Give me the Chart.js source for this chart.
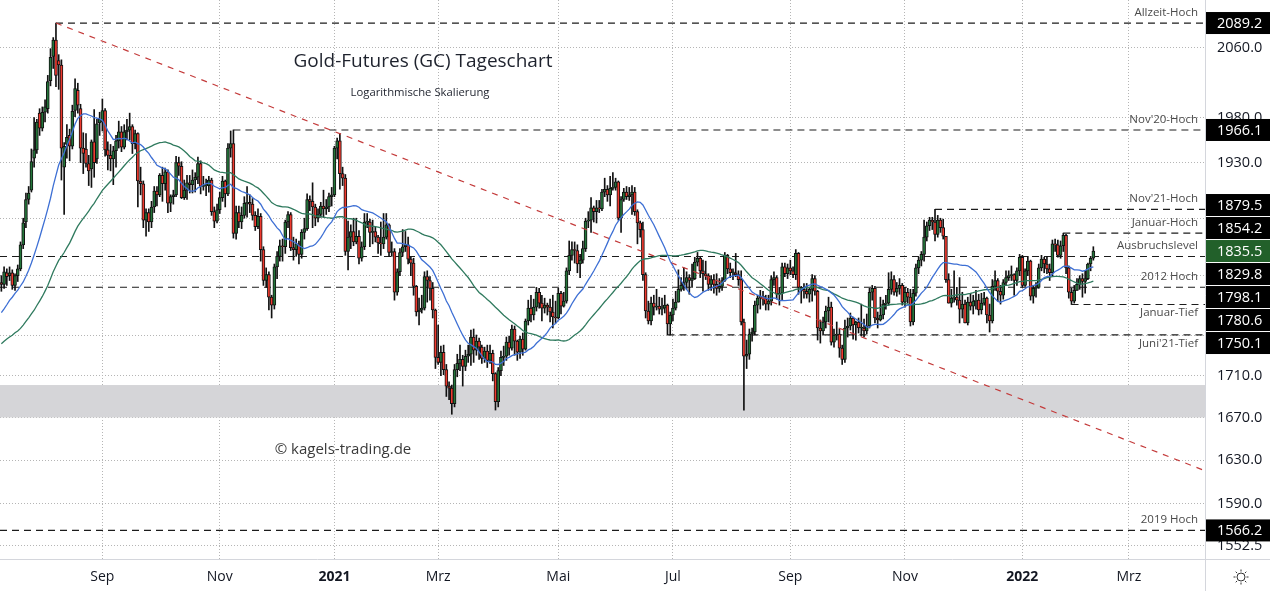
<!DOCTYPE html>
<html>
<head>
<meta charset="utf-8">
<script src="https://cdn.jsdelivr.net/npm/chart.js@4.4.1/dist/chart.umd.min.js"></script>
<style>
  html, body { margin: 0; padding: 0; background: #fff; }
  #wrap { width: 1270px; height: 591px; position: relative; }
</style>
</head>
<body>
<div id="wrap"><canvas id="chart"></canvas></div>
<script>
// Tagesdaten GC1! (Index 0 = 10.07.2020 ... Index 400 = 09.02.2022)
const opens = [
  1803,1801,1813,1810,1813,1800,1810,1817,1842,1866,1890,1900,1935,1944,1985,1968, // Jul 20
  1986,1990,2022,2050,2069,2045,2040,1925,1950,1960,1948,1988,2011,1990,1946,1945,1929,1923,1953,1934,1974, // Aug 20
  1975,1988,1944,1938,1934,1943,1954,1964,1947,1964,1966,1970,1951,1962,1910,1907,1868,1876,1866,1882,1899, // Sep 20
  1895,1916,1907,1920,1886,1893,1895,1930,1926,1892,1900,1908,1906,1911,1914,1929,1904,1905,1905,1911,1877,1867, // Okt 20
  1879,1892,1910,1896,1946,1951,1854,1876,1866,1873,1886,1887,1885,1873,1861,1872,1837,1805,1811,1788, // Nov 20
  1780,1819,1830,1841,1840,1866,1874,1839,1837,1843,1832,1855,1859,1890,1888,1882,1870,1874,1883,1880,1882,1893, // Dez 20
  1895,1946,1954,1918,1913,1835,1850,1856,1845,1851,1828,1840,1866,1866,1855,1856,1850,1844,1843, // Jan 21
  1850,1863,1834,1835,1793,1814,1834,1840,1842,1827,1823,1799,1773,1775,1777,1809,1805,1797,1775, // Feb 21
  1728,1723,1733,1716,1700,1698,1683,1716,1722,1726,1719,1729,1731,1748,1735,1744,1738,1727,1734,1725,1732,1712,1685, // Mrz 21
  1715,1728,1729,1743,1737,1756,1744,1733,1746,1736,1764,1777,1770,1778,1793,1782,1777,1780,1778,1773,1768, // Apr 21
  1767,1792,1779,1784,1815,1831,1837,1836,1822,1826,1838,1867,1868,1881,1877,1881,1880,1898,1901,1895, // Mai 21
  1902,1903,1909,1870,1890,1898,1893,1895,1898,1877,1865,1858,1811,1774,1764,1782,1778,1779,1776,1777,1780,1761, // Jun 21
  1770,1777,1783,1796,1800,1803,1808,1805,1807,1824,1828,1815,1812,1810,1801,1806,1801,1797,1799,1805,1831, // Jul 21
  1817,1813,1813,1811,1806,1763,1729,1731,1751,1753,1780,1787,1789,1786,1781,1784,1806,1808,1791,1792,1819,1812, // Aug 21
  1818,1815,1811,1833,1798,1796,1794,1791,1796,1807,1794,1757,1754,1763,1774,1778,1743,1750,1751,1737,1726, // Sep 21
  1757,1759,1767,1760,1763,1757,1757,1754,1759,1793,1797,1767,1765,1770,1781,1782,1796,1806,1793,1797,1800, // Okt 21
  1783,1793,1788,1763,1792,1818,1826,1832,1850,1862,1868,1866,1853,1868,1860,1851,1806,1782,1787,1788,1785, // Nov 21
  1776,1781,1762,1783,1779,1784,1785,1775,1782,1787,1770,1764,1799,1805,1794,1790,1803,1808,1810,1811,1805,1815, // Dez 21
  1829,1800,1815,1825,1789,1797,1798,1818,1827,1822,1817,1813,1843,1842,1831,1841,1852,1818,1793,1784, // Jan 22
  1795,1801,1807,1804,1807,1822,1828 // Feb 22
];
const highs = [
  1810,1819,1817,1819,1816,1812,1821,1845,1870,1897,1904,1945,1980,1978,1990,1992,
  2000,2028,2059,2072,2089.2,2052,2046,1952,1972,1967,1994,2024,2019,1995,1963,1962,1938,1955,1989,1978,1986,
  2001,1990,1953,1950,1948,1960,1976,1970,1972,1978,1985,1972,1966,1963,1925,1910,1880,1880,1888,1904,1904,
  1918,1925,1924,1922,1895,1900,1937,1936,1931,1911,1916,1916,1922,1919,1936,1932,1915,1912,1915,1913,1882,1885,
  1898,1915,1911,1951,1965,1966.1,1883,1883,1882,1893,1904,1895,1891,1877,1880,1875,1840,1818,1814,1790,
  1822,1835,1847,1848,1868,1877,1876,1850,1848,1846,1858,1870,1896,1894,1908,1885,1880,1887,1900,1890,1897,1903,
  1948,1957,1962,1925,1917,1867,1863,1870,1870,1857,1845,1875,1875,1869,1868,1861,1852,1866,1875,
  1875,1864,1845,1838,1817,1838,1858,1856,1850,1829,1828,1800,1787,1790,1814,1815,1809,1803,1776,
  1760,1739,1740,1721,1704,1701,1721,1731,1740,1730,1735,1740,1755,1756,1750,1747,1740,1738,1740,1740,1735,1713,1718,
  1734,1739,1748,1749,1760,1759,1745,1749,1752,1766,1785,1790,1786,1798,1797,1790,1787,1782,1786,1790,1784,
  1797,1794,1793,1818,1846,1845,1845,1842,1832,1846,1870,1877,1892,1883,1889,1889,1901,1913,1905,1915,
  1919,1913,1910,1893,1902,1904,1903,1905,1903,1879,1867,1866,1813,1784,1788,1790,1796,1788,1787,1790,1781,1773,
  1786,1794,1816,1808,1818,1814,1811,1822,1829,1834,1829,1826,1825,1812,1810,1811,1812,1807,1808,1834,1832,
  1823,1817,1833,1815,1815,1766,1745,1756,1757,1784,1790,1795,1794,1790,1790,1810,1814,1810,1798,1823,1823,1822,
  1826,1819,1837,1834,1799,1802,1802,1798,1811,1810,1795,1765,1768,1779,1788,1783,1756,1763,1756,1740,1765,
  1767,1772,1768,1764,1767,1781,1766,1771,1797,1800,1799,1773,1788,1785,1790,1813,1814,1810,1803,1807,1802,
  1798,1797,1796,1796,1822,1829,1835,1868,1866,1871,1871,1879.5,1873,1870,1869,1851,1812,1796,1815,1798,1808,
  1793,1785,1788,1792,1790,1795,1791,1792,1793,1788,1781,1806,1815,1807,1800,1806,1815,1815,1820,1812,1818,1832,
  1831,1817,1830,1826,1800,1803,1822,1831,1829,1830,1822,1847,1848,1847,1846,1854.2,1853,1820,1797,1800,
  1807,1810,1812,1815,1823,1830,1840
];
const lows = [
  1794,1797,1800,1805,1796,1795,1804,1815,1838,1860,1885,1898,1925,1940,1960,1965,
  1975,1985,2016,2036,2015,2012,1911,1874,1935,1932,1945,1981,1985,1930,1918,1925,1905,1903,1914,1929,1960,
  1965,1937,1922,1921,1906,1925,1946,1942,1945,1955,1955,1940,1945,1882,1895,1860,1851,1856,1860,1876,1883,
  1893,1888,1900,1876,1877,1885,1893,1916,1891,1890,1890,1897,1897,1898,1907,1896,1900,1894,1898,1873,1860,1865,
  1875,1888,1882,1894,1936,1849,1848,1860,1859,1870,1871,1876,1868,1857,1859,1825,1800,1798,1775,1767,
  1776,1807,1825,1825,1833,1860,1836,1826,1830,1822,1828,1848,1857,1878,1860,1862,1866,1871,1871,1874,1877,1883,
  1893,1934,1901,1905,1831,1816,1838,1841,1843,1822,1825,1837,1860,1840,1843,1845,1833,1831,1838,
  1848,1830,1830,1785,1790,1810,1830,1835,1822,1810,1790,1769,1760,1772,1775,1783,1785,1767,1717,
  1721,1710,1711,1690,1687,1673,1680,1709,1715,1700,1715,1723,1720,1723,1730,1726,1722,1723,1718,1722,1705,1677,1680,
  1710,1720,1725,1730,1735,1730,1725,1727,1730,1735,1760,1763,1765,1774,1777,1764,1772,1770,1763,1757,1762,
  1766,1771,1778,1782,1811,1826,1823,1813,1808,1823,1835,1860,1855,1866,1865,1876,1878,1893,1888,1883,
  1900,1900,1868,1855,1888,1890,1889,1874,1873,1843,1850,1805,1767,1761,1760,1770,1775,1771,1770,1772,1750.1,1750,
  1764,1775,1783,1794,1795,1796,1791,1798,1806,1820,1808,1794,1806,1795,1795,1792,1790,1793,1795,1804,1812,
  1808,1806,1809,1800,1760,1677,1717,1726,1744,1750,1772,1776,1780,1775,1775,1780,1800,1786,1780,1785,1809,1807,
  1811,1808,1806,1791,1782,1787,1787,1783,1784,1790,1745,1742,1750,1757,1763,1740,1738,1745,1728,1721,1723,
  1748,1755,1746,1745,1752,1749,1748,1751,1757,1785,1762,1757,1764,1766,1776,1780,1791,1790,1789,1791,1780,
  1778,1782,1759,1760,1789,1812,1820,1825,1846,1857,1858,1846,1850,1855,1848,1803,1782,1778,1783,1780,1762,
  1767,1762,1760,1775,1771,1776,1770,1771,1780,1762,1753,1762,1795,1784,1781,1786,1800,1805,1805,1790,1800,1810,
  1798,1799,1810,1785,1782,1788,1797,1815,1813,1812,1805,1810,1835,1829,1828,1835,1812,1787,1780.6,1782,
  1795,1796,1788,1792,1806,1815,1826
];
const closes = [
  1801,1814,1809,1813,1800,1810,1817,1842,1865,1890,1897,1931,1944,1975,1968,1986,
  1992,2021,2049,2069,2028,2040,1946,1948,1958,1948,1987,2013,1994,1946,1940,1929,1921,1953,1930,1973,1978,
  1988,1944,1938,1934,1943,1954,1964,1947,1964,1966,1970,1951,1962,1910,1907,1868,1876,1866,1882,1899,1895,
  1916,1907,1920,1886,1893,1895,1930,1926,1892,1900,1908,1906,1911,1914,1929,1904,1905,1905,1911,1877,1867,1879,
  1892,1910,1896,1946,1951,1854,1876,1866,1873,1886,1887,1885,1873,1861,1872,1837,1805,1811,1788,1780,
  1819,1830,1841,1840,1866,1874,1839,1837,1843,1832,1855,1859,1890,1888,1882,1870,1874,1883,1880,1882,1893,1895,
  1946,1954,1918,1913,1835,1850,1856,1845,1851,1828,1840,1866,1866,1855,1856,1850,1844,1843,1850,
  1863,1834,1835,1793,1814,1834,1840,1842,1827,1823,1799,1773,1775,1777,1809,1805,1797,1775,1728,
  1723,1733,1716,1700,1698,1683,1716,1722,1726,1719,1729,1731,1748,1735,1744,1738,1727,1734,1725,1732,1712,1685,1715,
  1728,1729,1743,1737,1756,1744,1733,1746,1736,1764,1777,1770,1778,1793,1782,1777,1780,1778,1773,1768,1767,
  1792,1779,1784,1815,1831,1837,1836,1822,1826,1838,1867,1868,1881,1877,1881,1880,1898,1901,1895,1902,
  1903,1909,1870,1890,1898,1893,1895,1898,1877,1865,1858,1811,1774,1764,1782,1778,1779,1776,1777,1780,1761,1770,
  1777,1783,1796,1800,1803,1808,1805,1807,1824,1828,1815,1812,1810,1801,1806,1801,1797,1799,1805,1831,1817,
  1813,1813,1811,1806,1763,1729,1731,1751,1753,1780,1787,1789,1786,1781,1784,1806,1808,1791,1792,1819,1812,1818,
  1815,1811,1833,1798,1796,1794,1791,1796,1807,1794,1757,1754,1763,1774,1778,1743,1750,1751,1737,1726,1757,
  1759,1767,1760,1763,1757,1757,1754,1759,1793,1797,1767,1765,1770,1781,1782,1796,1806,1793,1797,1800,1783,
  1793,1788,1763,1792,1818,1826,1832,1850,1862,1868,1866,1853,1868,1860,1851,1806,1782,1787,1788,1785,1776,
  1781,1762,1783,1779,1784,1785,1775,1782,1787,1770,1764,1799,1805,1794,1790,1803,1808,1810,1811,1805,1815,1829,
  1800,1815,1825,1789,1797,1798,1818,1827,1822,1817,1813,1843,1842,1831,1841,1852,1818,1793,1784,1795,
  1801,1807,1804,1807,1822,1828,1835.5
];
// Schlusskurse vor dem sichtbaren Bereich (29.04.-09.07.2020), nur für die Durchschnitte
const closesBefore = [
  1713,1694,1700,1713,1711,1688,1726,1713,1698,1706,1716,1740,1756,1734,1745,1752,1721,1735,1705,1710,
  1727,1751,1750,1734,1704,1714,1683,1698,1720,1738,1739,1737,1727,1726,1735,1731,1753,1756,1782,1775,
  1771,1780,1781,1800,1780,1788,1793,1809,1820,1803
];

// Achsen
const monthIdx = [37, 80, 122, 160, 204, 246, 289, 331, 374, 413];
const monthLabels = ['Sep', 'Nov', '2021', 'Mrz', 'Mai', 'Jul', 'Sep', 'Nov', '2022', 'Mrz'];
const yTicks = [1552.5, 1590, 1630, 1670, 1710, 1750, 1810, 1870, 1930, 1980, 2060];
const yTicksNoLabel = [1750, 1810, 1870];

// horizontale Marken
const levelValues = [2089.2, 1966.1, 1879.5, 1854.2, 1829.8, 1798.1, 1780.6, 1750.1, 1566.2];
const levelStartIdx = [20, 85, 342, 389, -0.5, -0.5, 392, 244, -0.5];
const levelNames = ['Allzeit-Hoch', "Nov'20-Hoch", "Nov'21-Hoch", 'Januar-Hoch', 'Ausbruchslevel', '2012 Hoch', 'Januar-Tief', "Juni'21-Tief", '2019 Hoch'];
const levelNameBelow = [false, false, false, false, false, false, true, true, false];

const supportZone = [1670, 1701];
const trendAnchors = [[20, 2089.2], [124, 1962]];

const X_MIN = -0.5, X_MAX = 440.9;
const Y_MIN = 1541, Y_MAX = 2116.7;
const FONT = '"Open Sans", sans-serif';
const UP = '#24753a', DOWN = '#ef3a2f';

function sma(n) {
  const all = closesBefore.concat(closes);
  const off = closesBefore.length;
  return closes.map((c, i) => {
    let s = 0;
    for (let j = i + off - n + 1; j <= i + off; j++) s += all[j];
    return { x: i, y: s / n };
  });
}

const wicks = closes.map((c, i) => ({ x: i, y: [lows[i], highs[i]] }));
const bodies = closes.map((c, i) => ({ x: i, y: [opens[i], c] }));
const bodyColors = closes.map((c, i) => c >= opens[i] ? UP : DOWN);

const [ta, tb] = trendAnchors;
const trendSlope = (Math.log(tb[1]) - Math.log(ta[1])) / (tb[0] - ta[0]);
const trendData = [
  { x: ta[0], y: ta[1] },
  { x: X_MAX, y: Math.exp(Math.log(ta[1]) + trendSlope * (X_MAX - ta[0])) }
];

const levelSets = levelValues.map((v, k) => ({
  type: 'line',
  data: [{ x: levelStartIdx[k], y: v }, { x: X_MAX, y: v }],
  borderColor: '#1c1c1c', borderWidth: 1.2, borderDash: [7, 5],
  pointRadius: 0, order: 3
}));

const overlay = {
  id: 'overlay',
  beforeDatasetsDraw(chart) {
    const { ctx, chartArea: a, scales: { y } } = chart;
    const top = y.getPixelForValue(supportZone[1]);
    const bot = y.getPixelForValue(supportZone[0]);
    ctx.save();
    ctx.fillStyle = '#d5d5d8';
    ctx.fillRect(a.left, top, a.right - a.left, bot - top);
    ctx.restore();
  },
  afterDatasetsDraw(chart) {
    const { ctx, chartArea: a, scales: { y } } = chart;
    ctx.save();
    ctx.textBaseline = 'middle';
    ctx.textAlign = 'center';
    ctx.fillStyle = '#1e222d';
    ctx.font = '19px ' + FONT;
    ctx.fillText('Gold-Futures (GC) Tageschart', 423, 62);
    ctx.font = '11.3px ' + FONT;
    ctx.fillText('Logarithmische Skalierung', 420, 93);
    ctx.fillStyle = '#3a3a3a';
    ctx.font = '15px ' + FONT;
    ctx.fillText('© kagels-trading.de', 343, 450);

    ctx.textAlign = 'right';
    ctx.fillStyle = '#4a4a4a';
    ctx.font = '11.5px ' + FONT;
    levelValues.forEach((v, k) => {
      const py = y.getPixelForValue(v) + (levelNameBelow[k] ? 8.5 : -10.5);
      ctx.fillText(levelNames[k], a.right - 7, py);
    });
    ctx.restore();
  },
  afterDraw(chart) {
    const { ctx, chartArea: a, scales: { y }, width, height } = chart;
    ctx.save();
    ctx.strokeStyle = '#d4d6dc';
    ctx.lineWidth = 1;
    ctx.beginPath();
    ctx.moveTo(a.right + 0.5, 0); ctx.lineTo(a.right + 0.5, height);
    ctx.moveTo(0, a.bottom + 0.5); ctx.lineTo(width, a.bottom + 0.5);
    ctx.stroke();

    // Preisboxen an der Achse, gegen Überlappung verschoben
    const last = closes[closes.length - 1];
    const boxes = levelValues.map(v => ({ v, color: '#000' }));
    boxes.push({ v: last, color: '#22602a' });
    boxes.forEach(b => { b.py = y.getPixelForValue(b.v); b.pos = b.py; });
    boxes.sort((p, q) => p.py - q.py);
    const anchor = boxes.findIndex(b => b.v === last && b.color !== '#000');
    const gap = 23;
    for (let j = anchor - 1; j >= 0; j--) boxes[j].pos = Math.min(boxes[j].py, boxes[j + 1].pos - gap);
    for (let j = anchor + 1; j < boxes.length; j++) boxes[j].pos = Math.max(boxes[j].py, boxes[j - 1].pos + gap);
    ctx.font = '14.5px ' + FONT;
    ctx.textBaseline = 'middle';
    ctx.textAlign = 'left';
    boxes.forEach(b => {
      ctx.fillStyle = b.color;
      ctx.fillRect(a.right + 1, b.pos - 11, width - a.right - 1, 22);
      ctx.fillStyle = '#fff';
      ctx.fillText(b.v.toFixed(1), a.right + 12, b.pos + 0.5);
    });

    // Zahnrad-Symbol unten rechts
    const cx = 1241, cy = 577;
    ctx.strokeStyle = '#333';
    ctx.lineWidth = 1;
    ctx.beginPath();
    ctx.arc(cx, cy, 4, 0, Math.PI * 2);
    for (let k = 0; k < 8; k++) {
      const ang = k * Math.PI / 4;
      ctx.moveTo(cx + Math.cos(ang) * 5.5, cy + Math.sin(ang) * 5.5);
      ctx.lineTo(cx + Math.cos(ang) * 7.5, cy + Math.sin(ang) * 7.5);
    }
    ctx.stroke();
    ctx.restore();
  }
};

new Chart(document.getElementById('chart'), {
  type: 'bar',
  data: {
    datasets: [
      { type: 'line', data: sma(20), borderColor: '#3d6fd4', borderWidth: 1.3, pointRadius: 0, tension: 0, order: 0 },
      { type: 'line', data: sma(50), borderColor: '#2f7a5e', borderWidth: 1.3, pointRadius: 0, tension: 0, order: 0 },
      { type: 'line', data: trendData, borderColor: '#c43b3b', borderWidth: 1.2, borderDash: [6, 6], pointRadius: 0, order: 0 },
      { type: 'bar', data: bodies, backgroundColor: bodyColors, borderColor: '#111', borderWidth: 1,
        borderSkipped: false, barThickness: 3, minBarLength: 1, grouped: false, order: 1 },
      { type: 'bar', data: wicks, backgroundColor: '#111', barThickness: 1, grouped: false, order: 2 },
      ...levelSets
    ]
  },
  options: {
    responsive: true,
    maintainAspectRatio: false,
    animation: false,
    events: [],
    layout: { padding: 0 },
    plugins: { legend: { display: false }, tooltip: { enabled: false } },
    scales: {
      x: {
        type: 'linear', min: X_MIN, max: X_MAX, offset: false,
        afterBuildTicks: s => { s.ticks = monthIdx.map(v => ({ value: v })); },
        afterFit: s => { s.height = 32; s.paddingLeft = 0; s.paddingRight = 0; },
        grid: { color: '#b5b5b5', lineWidth: 1, drawTicks: false, offset: false },
        border: { display: false, dash: [1, 2] },
        ticks: {
          padding: 10, autoSkip: false, maxRotation: 0, color: '#131722',
          font: ctx => {
            const k = ctx.tick ? monthIdx.indexOf(ctx.tick.value) : -1;
            const isYear = k >= 0 && /^20/.test(monthLabels[k]);
            return { family: FONT, size: 14, weight: isYear ? 'bold' : 'normal' };
          },
          callback: v => { const k = monthIdx.indexOf(v); return k >= 0 ? monthLabels[k] : ''; }
        }
      },
      y: {
        type: 'logarithmic', position: 'right', min: Y_MIN, max: Y_MAX,
        afterBuildTicks: s => { s.ticks = yTicks.map(v => ({ value: v })); },
        afterFit: s => { s.width = 65; s.paddingTop = 0; s.paddingBottom = 0; },
        grid: { color: '#b5b5b5', lineWidth: 1, drawTicks: false, offset: false },
        border: { display: false, dash: [1, 2] },
        ticks: {
          padding: 12, color: '#131722', font: { family: FONT, size: 14.5 },
          callback: v => yTicksNoLabel.includes(v) ? '' : Number(v).toFixed(1)
        }
      }
    }
  },
  plugins: [overlay]
});
</script>
</body>
</html>
